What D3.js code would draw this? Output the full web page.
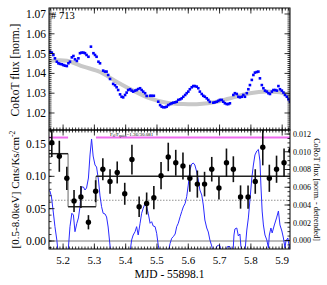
<!DOCTYPE html>
<html><head><meta charset="utf-8">
<script src="https://cdn.jsdelivr.net/npm/d3@7"></script>
<style>body{margin:0;background:#fff}svg{display:block}text{font-family:"Liberation Serif","Times New Roman",serif;fill:#000}</style>
</head><body><svg id="c" width="327" height="285"></svg>
<script>
// ---- data ----
const lcTime = [5.158,5.164,5.169,5.174,5.180,5.185,5.190,5.196,5.201,5.206,5.212,5.217,5.222,5.228,5.233,5.238,5.244,5.249,5.254,5.259,5.265,5.270,5.275,5.281,5.289,5.297,5.302,5.307,5.313,5.318,5.328,5.334,5.339,5.344,5.350,5.360,5.366,5.371,5.376,5.382,5.387,5.392,5.398,5.403,5.408,5.414,5.419,5.424,5.430,5.435,5.440,5.446,5.451,5.456,5.462,5.467,5.478,5.483,5.490,5.504,5.510,5.515,5.520,5.526,5.531,5.536,5.542,5.547,5.552,5.558,5.563,5.568,5.574,5.579,5.584,5.590,5.595,5.600,5.605,5.611,5.616,5.621,5.627,5.632,5.637,5.643,5.648,5.653,5.659,5.664,5.669,5.680,5.685,5.691,5.696,5.701,5.707,5.712,5.717,5.723,5.728,5.733,5.744,5.749,5.755,5.760,5.765,5.771,5.776,5.781,5.787,5.792,5.797,5.803,5.808,5.813,5.819,5.824,5.829,5.835,5.840,5.845,5.851,5.856,5.861,5.867,5.872,5.878,5.883,5.888,5.893,5.899,5.904,5.909,5.915,5.920,5.925];
const lcFlux = [1.0510,1.0505,1.0493,1.0476,1.0459,1.0451,1.0448,1.0446,1.0442,1.0439,1.0437,1.0451,1.0459,1.0481,1.0488,1.0471,1.0463,1.0476,1.0502,1.0505,1.0505,1.0502,1.0493,1.0484,1.0535,1.0502,1.0493,1.0484,1.0459,1.0451,1.0414,1.0409,1.0409,1.0392,1.0372,1.0347,1.0340,1.0330,1.0316,1.0294,1.0282,1.0279,1.0291,1.0303,1.0316,1.0320,1.0313,1.0308,1.0313,1.0316,1.0321,1.0325,1.0316,1.0308,1.0300,1.0286,1.0287,1.0287,1.0287,1.0257,1.0240,1.0232,1.0229,1.0229,1.0232,1.0240,1.0245,1.0249,1.0252,1.0254,1.0257,1.0266,1.0269,1.0274,1.0282,1.0291,1.0300,1.0308,1.0320,1.0330,1.0336,1.0336,1.0333,1.0325,1.0308,1.0296,1.0287,1.0282,1.0274,1.0266,1.0256,1.0252,1.0254,1.0257,1.0261,1.0266,1.0266,1.0257,1.0249,1.0245,1.0245,1.0249,1.0291,1.0300,1.0296,1.0282,1.0279,1.0282,1.0291,1.0282,1.0300,1.0320,1.0341,1.0367,1.0392,1.0404,1.0407,1.0409,1.0375,1.0341,1.0325,1.0313,1.0308,1.0300,1.0296,1.0308,1.0316,1.0316,1.0313,1.0336,1.0320,1.0313,1.0303,1.0291,1.0282,1.0269,1.0257];
const trendTime = [5.155,5.212,5.265,5.318,5.371,5.424,5.478,5.531,5.584,5.637,5.691,5.744,5.797,5.851,5.904,5.925];
const trendFlux = [1.0463,1.0464,1.0434,1.0407,1.0358,1.0313,1.0274,1.0252,1.0245,1.0245,1.0257,1.0279,1.0300,1.0308,1.0300,1.0285];

const xrTime = [5.164,5.188,5.212,5.235,5.257,5.281,5.304,5.327,5.350,5.373,5.397,5.420,5.443,5.467,5.490,5.513,5.536,5.560,5.583,5.605,5.629,5.652,5.675,5.698,5.722,5.744,5.767,5.791,5.814,5.838,5.859,5.882,5.906,5.928];
const xrRate = [0.152,0.131,0.097,0.062,0.068,0.029,0.077,0.111,0.092,0.106,0.073,0.126,0.053,0.058,0.067,0.101,0.130,0.121,0.116,0.097,0.088,0.088,0.111,0.082,0.121,0.111,0.068,0.068,0.092,0.145,0.097,0.111,0.121,0.140];
const xrErr = [0.022,0.024,0.018,0.017,0.017,0.011,0.017,0.017,0.019,0.017,0.017,0.023,0.016,0.017,0.018,0.021,0.022,0.020,0.021,0.021,0.021,0.019,0.019,0.018,0.022,0.020,0.018,0.018,0.019,0.028,0.021,0.021,0.022,0.022];

const detTime = [5.152,5.158,5.163,5.169,5.174,5.180,5.184,5.216,5.222,5.228,5.233,5.238,5.244,5.249,5.254,5.259,5.265,5.270,5.275,5.281,5.286,5.291,5.296,5.302,5.307,5.313,5.318,5.323,5.328,5.334,5.339,5.344,5.352,5.414,5.419,5.424,5.430,5.435,5.440,5.446,5.451,5.456,5.462,5.467,5.472,5.478,5.483,5.488,5.494,5.499,5.504,5.508,5.536,5.542,5.547,5.552,5.558,5.563,5.568,5.574,5.579,5.584,5.590,5.595,5.600,5.605,5.611,5.616,5.621,5.627,5.632,5.637,5.643,5.648,5.653,5.659,5.664,5.669,5.675,5.679,5.685,5.691,5.696,5.701,5.705,5.720,5.725,5.733,5.738,5.743,5.746,5.749,5.755,5.760,5.765,5.768,5.772,5.781,5.787,5.792,5.797,5.803,5.808,5.813,5.819,5.824,5.829,5.832,5.836,5.840,5.845,5.851,5.856,5.859,5.864,5.868,5.875,5.882,5.888,5.893,5.899,5.904,5.909,5.912,5.918,5.922,5.925];
const detFlux = [0.00569,0.00558,0.00490,0.00310,0.00156,0.00006,-0.0013,-0.0013,0.00156,0.00307,0.00287,0.00099,0.00194,0.00254,0.00381,0.00603,0.00603,0.00569,0.00592,0.00704,0.00964,0.01144,0.00952,0.00851,0.00828,0.00682,0.00502,0.00381,0.00307,0.00299,0.00265,0.00152,-0.0013,-0.0013,0.00006,0.00062,0.00099,0.00156,0.00062,0.00194,0.00307,0.00363,0.00419,0.00381,0.00307,0.00194,0.00212,0.00163,0.00156,0.00081,-0.00051,-0.0013,-0.0013,-0.00032,0.00025,0.00043,0.00073,0.00156,0.00194,0.00268,0.00325,0.00378,0.00419,0.00494,0.00625,0.00795,0.00862,0.00873,0.00851,0.00772,0.00682,0.00569,0.00513,0.00400,0.00231,0.00141,0.00096,0.00006,-0.00062,-0.0013,-0.0013,-0.00065,-0.00054,-0.00059,-0.0013,-0.0013,-0.00068,-0.00068,-0.0013,-0.0013,0.00062,0.00130,0.00141,0.00051,0.00073,-0.00062,-0.0013,-0.0013,0.00118,0.00254,0.00456,0.00704,0.00851,0.00964,0.01009,0.01026,0.00896,0.00625,0.00332,0.00175,0.00062,0.00006,-0.00085,0.00062,0.00141,0.00085,0.00175,0.00254,0.00332,0.00175,0.00107,0.00028,-0.00085,-0.00006,0.00028,-0.00051,-0.00107];

const blockEdges = [5.155, 5.216, 5.305, 5.925];
const blockRates = [0.135, 0.053, 0.100];
const flareSpans = [[5.155, 5.216], [5.305, 5.925]];
const flareLevel = 0.160;
const quiesLevel = 0.063;

const xTicks = [5.2, 5.3, 5.4, 5.5, 5.6, 5.7, 5.8, 5.9];
const topYTicks = [1.02, 1.03, 1.04, 1.05, 1.06, 1.07];
const botYTicks = [0.00, 0.05, 0.10, 0.15];
const rightYTicks = [0.000, 0.002, 0.004, 0.006, 0.008, 0.010, 0.012];

// ---- layout ----
const L = 49, R = 290, T1 = 8, B1 = 130, B2 = 249;
const svg = d3.select("#c");
const x = d3.scaleLinear([5.155, 5.925], [L, R]);
const yTop = d3.scaleLinear([1.01141, 1.07303], [B1, T1]);
const yBot = d3.scaleLinear([-0.01237, 0.17165], [B2, B1]);
const yR = d3.scaleLinear([-0.000958, 0.012453], [B2, B1]);

const defs = svg.append("defs");
defs.append("clipPath").attr("id", "cTop").append("rect").attr("x", L).attr("y", T1).attr("width", R - L).attr("height", B1 - T1);
defs.append("clipPath").attr("id", "cBot").append("rect").attr("x", L).attr("y", B1).attr("width", R - L).attr("height", B2 - B1);

// ---- top panel ----
const gT = svg.append("g").attr("clip-path", "url(#cTop)");
gT.append("path")
  .datum(trendTime.map((t, i) => [t, trendFlux[i]]))
  .attr("d", d3.line().x(d => x(d[0])).y(d => yTop(d[1])).curve(d3.curveCatmullRom))
  .attr("fill", "none").attr("stroke", "#c8c8c8").attr("stroke-width", 4);
gT.selectAll("rect.pt").data(lcTime.map((t, i) => [t, lcFlux[i]])).join("rect")
  .attr("x", d => x(d[0]) - 1.3).attr("y", d => yTop(d[1]) - 1.3)
  .attr("width", 2.6).attr("height", 2.6).attr("fill", "#0000ff");

// ---- bottom panel ----
const gB = svg.append("g").attr("clip-path", "url(#cBot)");
gB.append("line").attr("x1", L).attr("x2", R).attr("y1", yBot(0)).attr("y2", yBot(0))
  .attr("stroke", "#bdbdbd").attr("stroke-width", 1.8);
gB.append("line").attr("x1", L).attr("x2", R).attr("y1", yBot(quiesLevel)).attr("y2", yBot(quiesLevel))
  .attr("stroke", "#777").attr("stroke-width", 0.8).attr("stroke-dasharray", "1.5,1.5");
gB.append("path")
  .datum(detTime.map((t, i) => [t, detFlux[i]]))
  .attr("d", d3.line().x(d => x(d[0])).y(d => yR(d[1])))
  .attr("fill", "none").attr("stroke", "#2a2aff").attr("stroke-width", 1);
gB.selectAll("line.fl").data(flareSpans).join("line")
  .attr("x1", d => x(d[0])).attr("x2", d => x(d[1]))
  .attr("y1", yBot(flareLevel)).attr("y2", yBot(flareLevel))
  .attr("stroke", "#f06cf0").attr("stroke-width", 2);
// block step: gray verticals, black horizontals
for (let i = 1; i < blockRates.length; i++) {
  gB.append("line").attr("x1", x(blockEdges[i])).attr("x2", x(blockEdges[i]))
    .attr("y1", yBot(blockRates[i - 1])).attr("y2", yBot(blockRates[i]))
    .attr("stroke", "#9a9a9a").attr("stroke-width", 1.5);
}
blockRates.forEach((r, i) => {
  gB.append("line").attr("x1", x(blockEdges[i])).attr("x2", x(blockEdges[i + 1]))
    .attr("y1", yBot(r)).attr("y2", yBot(r))
    .attr("stroke", "#222").attr("stroke-width", 1.5);
});
const xr = xrTime.map((t, i) => ({t, v: xrRate[i], e: xrErr[i]}));
gB.selectAll("line.eb").data(xr).join("line")
  .attr("x1", d => x(d.t)).attr("x2", d => x(d.t))
  .attr("y1", d => yBot(d.v - d.e)).attr("y2", d => yBot(d.v + d.e))
  .attr("stroke", "#111").attr("stroke-width", 1.6);
gB.selectAll("circle").data(xr).join("circle")
  .attr("cx", d => x(d.t)).attr("cy", d => yBot(d.v)).attr("r", 2.7).attr("fill", "#000");

// ---- frames and ticks ----
function frame(y0, y1) {
  svg.append("rect").attr("x", L).attr("y", y0).attr("width", R - L).attr("height", y1 - y0)
    .attr("fill", "none").attr("stroke", "#000").attr("stroke-width", 1);
}
frame(T1, B1); frame(B1, B2);
const tk = svg.append("g").attr("stroke", "#000").attr("stroke-width", 0.8);
function xTickRow(y, dir) {
  const minor = d3.range(5.16, 5.925, 0.01);
  minor.forEach(v => tk.append("line").attr("x1", x(v)).attr("x2", x(v)).attr("y1", y).attr("y2", y + dir * 2.5));
  xTicks.forEach(v => tk.append("line").attr("x1", x(v)).attr("x2", x(v)).attr("y1", y).attr("y2", y + dir * 5.5));
}
xTickRow(T1, 1); xTickRow(B1, -1); xTickRow(B1, 1); xTickRow(B2, -1);
function yTickCol(scale, xpos, dir, majors, minorStep, lo, hi) {
  d3.range(lo, hi, minorStep).forEach(v => tk.append("line").attr("x1", xpos).attr("x2", xpos + dir * 2.5).attr("y1", scale(v)).attr("y2", scale(v)));
  majors.forEach(v => tk.append("line").attr("x1", xpos).attr("x2", xpos + dir * 5.5).attr("y1", scale(v)).attr("y2", scale(v)));
}
yTickCol(yTop, L, 1, topYTicks, 0.001, 1.012, 1.073);
yTickCol(yTop, R, -1, topYTicks, 0.001, 1.012, 1.073);
yTickCol(yBot, L, 1, botYTicks, 0.01, -0.01, 0.171);
yTickCol(yR, R, -1, rightYTicks, 0.0005, -0.0005, 0.0124);

// ---- labels ----
svg.selectAll("text.ty").data(topYTicks).join("text")
  .attr("x", 46).attr("y", d => yTop(d)).attr("dy", "0.35em").attr("text-anchor", "end")
  .attr("font-size", 11.5).text(d => d3.format(".2f")(d));
svg.selectAll("text.by").data(botYTicks).join("text")
  .attr("x", 46).attr("y", d => yBot(d)).attr("dy", "0.35em").attr("text-anchor", "end")
  .attr("font-size", 11.5).text(d => d3.format(".2f")(d));
svg.selectAll("text.ry").data(rightYTicks).join("text")
  .attr("x", 293).attr("y", d => yR(d)).attr("dy", "0.35em").attr("text-anchor", "start")
  .attr("font-size", 8).text(d => d3.format(".3f")(d));
svg.selectAll("text.tx").data(xTicks).join("text")
  .attr("x", d => x(d)).attr("y", 264).attr("text-anchor", "middle")
  .attr("font-size", 11).text(d => d3.format(".1f")(d));
svg.append("text").attr("x", (L + R) / 2).attr("y", 278).attr("text-anchor", "middle")
  .attr("font-size", 11.5).text("MJD - 55898.1");
svg.append("text").attr("transform", `translate(19,${(T1 + B1) / 2 + 1}) rotate(-90)`)
  .attr("text-anchor", "middle").attr("font-size", 11.5).text("CoRoT flux [norm.]");
const lt = svg.append("text").attr("transform", `translate(19,${(B1 + B2) / 2}) rotate(-90)`)
  .attr("text-anchor", "middle").attr("font-size", 11);
lt.append("tspan").text("[0.5-8.0keV] Cnts/Ks/cm");
lt.append("tspan").attr("dy", -4).attr("font-size", 7.5).text("-2");
svg.append("text").attr("transform", `translate(313.5,${(B1 + B2) / 2}) rotate(90)`)
  .attr("text-anchor", "middle").attr("font-size", 8).attr("fill", "#222").text("CoRoT flux [norm. - detrended]");
svg.append("text").attr("x", 51).attr("y", 18.5).attr("font-size", 10.5).text("# 713");
const fl = svg.append("text").attr("x", 110).attr("y", 135.5).attr("font-size", 5);
fl.append("tspan").text("F");
fl.append("tspan").attr("font-size", 3.5).attr("dy", 1).text("fl");
fl.append("tspan").attr("dy", -1).text("/F");
fl.append("tspan").attr("font-size", 3.5).attr("dy", 1).text("quies");
fl.append("tspan").attr("dy", -1).text("=1.36/30.081");
</script></body></html>
